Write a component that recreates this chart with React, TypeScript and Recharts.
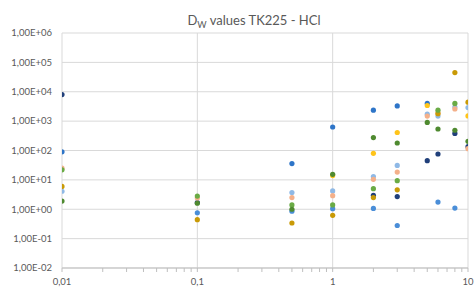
import React from "react";
import { ScatterChart, Scatter, XAxis, YAxis, CartesianGrid } from "recharts";

const xValues = [0.01, 0.1, 0.5, 1, 2, 3, 5, 6, 8, 10];

const navy = [8000, 1.7, null, null, 3, 2.7, 45, 76, 380, 135];
const blue = [90, null, 36, 630, 2350, 3300, 4000, null, null, null];
const blue2 = [null, 0.76, 0.86, 1.05, 1.07, 0.28, null, 1.75, 1.1, null];
const lightBlue = [4.1, null, 3.7, 4.2, 13, 31, 1730, 1480, 3000, 2900];
const salmon = [25, 2.4, 2.5, 2.9, 10.4, 18.5, 1480, 1900, 2600, 115];
const yellow = [null, null, null, 14, 80, 410, 3400, null, null, 1500];
const darkGold = [6, 0.44, 0.34, 0.62, 2.5, 4.6, null, 1800, 45000, 4400];
const green = [22, 2.8, 1.4, 1.4, 5, 9.4, null, 2350, 4000, null];
const darkGreen = [1.9, 1.6, 1.0, 15.5, 275, 180, 900, 540, 490, 205];

const majorX = [0.01, 0.1, 1, 10];
const minorX = [
  0.01, 0.02, 0.03, 0.04, 0.05, 0.06, 0.07, 0.08, 0.09,
  0.1, 0.2, 0.3, 0.4, 0.5, 0.6, 0.7, 0.8, 0.9,
  1, 2, 3, 4, 5, 6, 7, 8, 9, 10,
];
const yTicks = [0.01, 0.1, 1, 10, 100, 1000, 10000, 100000, 1000000];

const seriesList = [
  { name: "s1", values: navy, color: "#203f7a" },
  { name: "s2", values: blue, color: "#2e75c8" },
  { name: "s3", values: blue2, color: "#4a8ed8" },
  { name: "s4", values: lightBlue, color: "#8fb9e6" },
  { name: "s5", values: salmon, color: "#f4b08a" },
  { name: "s6", values: yellow, color: "#ffc41a" },
  { name: "s7", values: darkGold, color: "#c99a06" },
  { name: "s8", values: green, color: "#6aab45" },
  { name: "s9", values: darkGreen, color: "#4f8a30" },
];

const toData = (vals: (number | null)[]) =>
  xValues
    .map((x, i) => ({ x, y: vals[i] }))
    .filter((d) => d.y !== null) as { x: number; y: number }[];

const fmtY = (v: number) => {
  const e = Math.round(Math.log10(v));
  return `1,00E${e < 0 ? "-" : "+"}${String(Math.abs(e)).padStart(2, "0")}`;
};
const fmtX = (v: number) => String(v).replace(".", ",");

const FONT = "Lato, 'Open Sans', sans-serif";

const XTick = (props: any) => {
  const { x, y, payload } = props;
  const v = payload.value;
  if (!majorX.some((m) => Math.abs(m - v) < 1e-9)) return null;
  return (
    <text x={x} y={y} dy="0.71em" textAnchor="middle" fill="#595959" fontSize={9.5} fontFamily={FONT}>
      {fmtX(v)}
    </text>
  );
};

export default function App() {
  return (
    <div style={{ position: "absolute", left: 0, top: 0, width: 476, height: 291, background: "#fff" }}>
      <ScatterChart width={476} height={291} margin={{ top: 33, right: 8, bottom: 0, left: 0 }}>
        <CartesianGrid stroke="#d9d9d9" verticalValues={majorX} horizontalValues={yTicks} />
        <XAxis
          type="number"
          dataKey="x"
          scale="log"
          domain={[0.01, 10]}
          allowDataOverflow
          ticks={minorX}
          interval={0}
          height={23}
          tickSize={4}
          tickMargin={6}
          stroke="#bfbfbf"
          tickLine={{ stroke: "#bfbfbf" }}
          tick={<XTick />}
        />
        <YAxis
          type="number"
          dataKey="y"
          scale="log"
          domain={[0.01, 1000000]}
          allowDataOverflow
          ticks={yTicks}
          interval={0}
          width={62}
          tickSize={0}
          tickMargin={10}
          axisLine={false}
          tickLine={false}
          tickFormatter={fmtY}
          tick={{ fill: "#595959", fontSize: 9.5, fontFamily: FONT }}
        />
        {seriesList.map((s) => (
          <Scatter
            key={s.name}
            name={s.name}
            data={toData(s.values)}
            isAnimationActive={false}
            shape={(p: any) => <circle cx={p.cx} cy={p.cy} r={2.6} fill={s.color} />}
          />
        ))}
        <text x={254} y={25} textAnchor="middle" fill="#595959" fontSize={13} fontFamily={FONT}>
          D<tspan fontSize={9} dy={3}>W</tspan>
          <tspan dy={-3}> values TK225 - HCl</tspan>
        </text>
      </ScatterChart>
    </div>
  );
}
